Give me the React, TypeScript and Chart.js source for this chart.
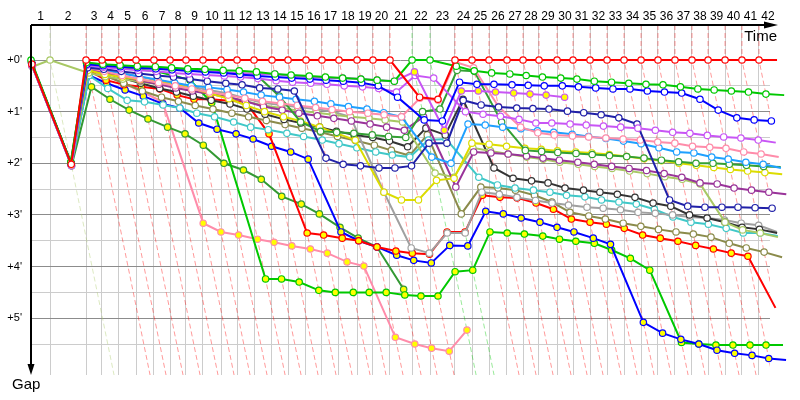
import { useEffect, useRef } from "react";
import { Chart, registerables } from "chart.js";
Chart.register(...registerables);

// Leader's race time (minutes) at the end of each lap, lap 0 = start
const lapTimes = [
  0, 1.81, 5.24, 6.76, 8.38, 10.0, 11.71, 13.24, 14.76, 16.38, 18.1, 19.62, 21.24, 22.95, 24.48,
  26.19, 27.71, 29.33, 31.05, 32.57, 34.19, 36.29, 38.0, 40.38, 42.0, 43.62, 45.33, 46.86, 48.38,
  50.1, 51.62, 53.24, 54.86, 56.48, 58.1, 59.71, 61.33, 62.95, 64.48, 66.1, 67.71, 69.33, 71.05,
];
const lapLabels = lapTimes.slice(1).map((_, i) => String(i + 1));

// Gap axis (minutes)
const gapTicks = [0, 0.5, 1, 1.5, 2, 2.5, 3, 3.5, 4, 4.5, 5, 5.5];
const gapLabels = ["+0'", "", "+1'", "", "+2'", "", "+3'", "", "+4'", "", "+5'", ""];

// Gaps (minutes) per lap, lap 0 .. last lap completed
const gapRed = [0.08, 2.02, 0, 0, 0, 0, 0, 0, 0, 0, 0, 0, 0, 0, 0, 0, 0, 0, 0, 0, 0, 0.72, 0.76, 0, 0, 0, 0, 0, 0, 0, 0, 0, 0, 0, 0, 0, 0, 0, 0, 0, 0, 0, 0];
const gapGreen = [0.0, 1.98, 0.05, 0.08, 0.1, 0.12, 0.13, 0.15, 0.17, 0.18, 0.2, 0.21, 0.23, 0.27, 0.29, 0.31, 0.33, 0.35, 0.37, 0.39, 0.41, 0, 0, 0.12, 0.21, 0.25, 0.27, 0.3, 0.33, 0.35, 0.37, 0.41, 0.43, 0.45, 0.47, 0.48, 0.52, 0.56, 0.58, 0.6, 0.62, 0.66, 0.68];
const gapBlue = [0.05, 2.0, 0.08, 0.11, 0.13, 0.15, 0.17, 0.19, 0.21, 0.23, 0.25, 0.28, 0.31, 0.33, 0.35, 0.37, 0.39, 0.41, 0.44, 0.5, 0.72, 1.16, 1.18, 0.43, 0.47, 0.47, 0.48, 0.49, 0.5, 0.5, 0.52, 0.54, 0.56, 0.56, 0.6, 0.62, 0.64, 0.76, 0.97, 1.12, 1.16, 1.18, 1.18];
const gapViolet = [0.1, 2.02, 0.1, 0.14, 0.17, 0.2, 0.22, 0.25, 0.27, 0.29, 0.31, 0.33, 0.36, 0.4, 0.43, 0.45, 0.47, 0.5, 0.52, 0.55, 0.62, 0.3, 0.35, 1.0, 1.05, 1.09, 1.15, 1.22, 1.22, 1.24, 1.26, 1.28, 1.3, 1.32, 1.36, 1.4, 1.42, 1.46, 1.49, 1.51, 1.55, 1.6];
const gapVioletY = [0.12, 2.05, 0.05, 0.09, 0.12, 0.15, 0.17, 0.19, 0.21, 0.22, 0.24, 0.25, 0.27, 0.27, 0.31, 0.33, 0.35, 0.35, 0.37, 0.39, 0.41, 0.23, 1.36, 0.6, 0.6, 0.62, 0.64, 0.66, 0.68, 0.72];
const gapPink = [0.1, 2.0, 0.15, 0.22, 0.3, 0.37, 0.44, 0.5, 0.56, 0.62, 0.68, 0.74, 0.8, 0.84, 0.88, 0.92, 0.96, 1.0, 1.03, 1.06, 1.1, 0.74, 0.78, 0.04, 0.15, 0.9, 1.3, 1.41, 1.45, 1.47, 1.49, 1.51, 1.53, 1.55, 1.59, 1.61, 1.67, 1.69, 1.71, 1.78, 1.82, 1.88];
const gapPinkY = [0.1, 2.0, 0.2, 0.3, 0.45, 0.62, 0.81, 3.16, 3.33, 3.39, 3.47, 3.53, 3.6, 3.66, 3.74, 3.91, 3.99, 5.37, 5.5, 5.58, 5.64, 5.23];
const gapLightBlue = [0.08, 2.0, 0.1, 0.2, 0.26, 0.32, 0.38, 0.44, 0.5, 0.53, 0.57, 0.62, 0.68, 0.72, 0.76, 0.8, 0.85, 0.9, 0.95, 1.02, 1.1, 1.88, 2.0, 1.24, 1.26, 1.3, 1.33, 1.37, 1.4, 1.44, 1.48, 1.52, 1.57, 1.62, 1.7, 1.78, 1.8, 1.88, 1.92, 1.98, 2.02, 2.09];
const gapDarkGreen = [0.08, 2.0, 0.07, 0.1, 0.12, 0.14, 0.16, 0.18, 0.2, 0.22, 0.24, 0.26, 0.3, 0.7, 1.2, 1.38, 1.4, 1.42, 1.45, 1.48, 1.5, 1.0, 0.95, 0.2, 0.22, 1.2, 1.75, 1.77, 1.79, 1.81, 1.83, 1.85, 1.87, 1.9, 1.94, 1.97, 2.0, 2.0, 2.02, 2.04, 2.06, 2.07];
const gapDarkGreenY = [0.1, 2.05, 0.52, 0.76, 0.97, 1.14, 1.3, 1.43, 1.65, 2.0, 2.13, 2.31, 2.64, 2.79, 2.98, 3.24, 3.45, 3.62, 4.44];
const gapYellow = [0.12, 2.02, 0.2, 0.28, 0.33, 0.38, 0.43, 0.48, 0.55, 0.65, 0.75, 0.88, 1.0, 1.1, 1.18, 1.3, 1.42, 1.55, 2.56, 2.71, 2.71, 2.33, 2.29, 1.61, 1.63, 1.67, 1.71, 1.73, 1.76, 1.78, 1.8, 1.83, 1.87, 1.91, 1.95, 2.0, 2.04, 2.08, 2.12, 2.15, 2.18, 2.21];
const gapPurple = [0.1, 2.03, 0.15, 0.25, 0.32, 0.4, 0.47, 0.54, 0.6, 0.66, 0.72, 0.8, 0.9, 0.97, 1.03, 1.08, 1.13, 1.18, 1.24, 1.3, 1.36, 1.1, 2.46, 1.78, 1.8, 1.82, 1.86, 1.9, 1.94, 1.98, 2.02, 2.06, 2.1, 2.14, 2.2, 2.27, 2.38, 2.4, 2.48, 2.52, 2.56, 2.6];
const gapLightOlive = [0.13, 0.0, 0.25, 0.32, 0.37, 0.42, 0.47, 0.52, 0.58, 0.65, 0.72, 0.8, 0.88, 0.93, 0.98, 1.02, 1.06, 1.1, 1.13, 1.16, 1.2, 2.19, 2.27, 1.7, 1.76, 1.82, 1.88, 1.92, 1.98, 2.02, 2.06, 2.1, 2.15, 2.2, 2.26, 2.31, 2.4, 3.14, 3.29, 3.35, 3.43];
const gapNavy = [0.08, 2.0, 0.15, 0.18, 0.22, 0.26, 0.3, 0.33, 0.37, 0.41, 0.45, 0.48, 0.54, 0.56, 0.6, 1.9, 2.02, 2.05, 2.09, 2.09, 2.05, 1.61, 1.61, 0.78, 0.87, 0.91, 0.93, 0.94, 0.95, 0.99, 1.02, 1.06, 1.12, 1.24, 2.71, 2.83, 2.85, 2.85, 2.85, 2.86, 2.87, 2.89];
const gapBlack = [0.1, 2.02, 0.12, 0.25, 0.35, 0.45, 0.55, 0.62, 0.7, 0.78, 0.85, 0.95, 1.05, 1.15, 1.22, 1.3, 1.38, 1.45, 1.5, 1.57, 1.68, 1.32, 1.45, 0.76, 2.09, 2.29, 2.34, 2.38, 2.48, 2.52, 2.56, 2.6, 2.66, 2.77, 2.83, 3.0, 3.06, 3.14, 3.24, 3.28, 3.35];
const gapGray = [0.1, 2.0, 0.12, 0.18, 0.25, 0.32, 0.4, 0.46, 0.52, 0.58, 0.65, 0.74, 0.83, 0.87, 0.91, 0.95, 1.0, 1.1, 2.56, 3.64, 3.74, 3.35, 3.35, 2.56, 2.6, 2.66, 2.72, 2.77, 2.81, 2.85, 2.87, 2.9, 2.95, 2.97, 3.0, 3.04, 3.06, 3.1, 3.16, 3.2, 3.33];
const gapCyan = [0.12, 2.04, 0.3, 0.55, 0.78, 0.81, 0.87, 0.93, 1.03, 1.1, 1.2, 1.3, 1.35, 1.42, 1.48, 1.55, 1.62, 1.7, 1.78, 1.84, 1.88, 1.55, 1.53, 2.27, 2.42, 2.48, 2.52, 2.56, 2.62, 2.65, 2.71, 2.75, 2.79, 2.89, 3.04, 3.14, 3.18, 3.26, 3.35, 3.35, 3.41];
const gapOlive = [0.1, 2.02, 0.15, 0.3, 0.45, 0.6, 0.72, 0.8, 0.88, 0.95, 1.03, 1.1, 1.17, 1.25, 1.32, 1.4, 1.48, 1.56, 1.65, 1.75, 1.85, 1.45, 2.98, 2.46, 2.48, 2.52, 2.62, 2.75, 2.95, 3.02, 3.08, 3.16, 3.22, 3.28, 3.33, 3.37, 3.43, 3.55, 3.64, 3.72, 3.82];
const gapRedY = [0.1, 2.0, 0.2, 0.39, 0.48, 0.52, 0.56, 0.68, 0.76, 0.76, 0.79, 0.81, 1.43, 3.35, 3.39, 3.45, 3.5, 3.62, 3.7, 3.74, 3.76, 3.33, 3.33, 2.62, 2.66, 2.67, 2.77, 2.89, 3.08, 3.14, 3.18, 3.26, 3.39, 3.45, 3.51, 3.59, 3.66, 3.74, 3.8, 4.8];
const gapBlueY = [0.08, 2.02, 0.3, 0.45, 0.58, 0.7, 0.85, 0.93, 1.22, 1.34, 1.43, 1.53, 1.67, 1.78, 1.92, 3.33, 3.5, 3.62, 3.78, 3.88, 3.93, 3.59, 3.6, 2.93, 2.98, 3.06, 3.14, 3.24, 3.33, 3.45, 3.57, 5.08, 5.29, 5.41, 5.5, 5.62, 5.68, 5.72, 5.78, 5.81];
const gapGreenY = [0.05, 1.98, 0.06, 0.1, 0.14, 0.18, 0.22, 0.3, 0.39, 0.83, 4.24, 4.24, 4.3, 4.46, 4.5, 4.5, 4.5, 4.5, 4.55, 4.57, 4.57, 4.1, 4.07, 3.33, 3.35, 3.37, 3.41, 3.47, 3.51, 3.55, 3.68, 3.84, 4.07, 5.47, 5.5, 5.52, 5.52, 5.52, 5.52, 5.52];

const WHITE = "#ffffff";
const YELLOW = "#ffff00";
const cars = [
  { color: "#ff0000", marker: WHITE, gaps: gapRed },
  { color: "#00c800", marker: WHITE, gaps: gapGreen },
  { color: "#0000ff", marker: WHITE, gaps: gapBlue },
  { color: "#c855f5", marker: YELLOW, gaps: gapVioletY },
  { color: "#c855f5", marker: WHITE, gaps: gapViolet },
  { color: "#2020a8", marker: WHITE, gaps: gapNavy },
  { color: "#ff8caa", marker: WHITE, gaps: gapPink },
  { color: "#1ea0ff", marker: WHITE, gaps: gapLightBlue },
  { color: "#33a033", marker: WHITE, gaps: gapDarkGreen },
  { color: "#dcdc00", marker: WHITE, gaps: gapYellow },
  { color: "#993399", marker: WHITE, gaps: gapPurple },
  { color: "#a8c864", marker: WHITE, gaps: gapLightOlive },
  { color: "#333333", marker: WHITE, gaps: gapBlack },
  { color: "#a0a0a0", marker: WHITE, gaps: gapGray },
  { color: "#40c8c8", marker: WHITE, gaps: gapCyan },
  { color: "#8b8b4b", marker: WHITE, gaps: gapOlive },
  { color: "#ff0000", marker: YELLOW, gaps: gapRedY },
  { color: "#0000ff", marker: YELLOW, gaps: gapBlueY },
  { color: "#00c800", marker: YELLOW, gaps: gapGreenY },
  { color: "#339933", marker: YELLOW, gaps: gapDarkGreenY },
  { color: "#ff8caa", marker: YELLOW, gaps: gapPinkY },
];

const X_MAX = 70.38;
const Y_MIN = -0.678;
const Y_MAX = 6.1;

function hexToRgba(hex: string, a: number) {
  const n = parseInt(hex.slice(1), 16);
  return `rgba(${(n >> 16) & 255},${(n >> 8) & 255},${n & 255},${a})`;
}

const xTicks: { value: number; label: string; grid: boolean }[] = [];
for (let i = 1; i < lapTimes.length; i++) {
  if (lapTimes[i] < X_MAX) xTicks.push({ value: lapTimes[i], label: "", grid: true });
  const mid = (lapTimes[i - 1] + lapTimes[i]) / 2;
  if (mid < X_MAX) xTicks.push({ value: mid, label: lapLabels[i - 1], grid: false });
}
xTicks.sort((a, b) => a.value - b.value);

const decor = {
  id: "decor",
  afterDraw(chart: any) {
    const { ctx, chartArea: a } = chart;
    ctx.save();
    ctx.strokeStyle = "#000";
    ctx.fillStyle = "#000";
    ctx.lineWidth = 2;
    ctx.beginPath();
    ctx.moveTo(a.left, a.top);
    ctx.lineTo(a.right - 2, a.top);
    ctx.stroke();
    ctx.beginPath();
    ctx.moveTo(a.right + 8, a.top);
    ctx.lineTo(a.right - 6, a.top - 3.5);
    ctx.lineTo(a.right - 6, a.top + 3.5);
    ctx.closePath();
    ctx.fill();
    ctx.beginPath();
    ctx.moveTo(a.left, a.top);
    ctx.lineTo(a.left, a.bottom - 8);
    ctx.stroke();
    ctx.beginPath();
    ctx.moveTo(a.left, a.bottom);
    ctx.lineTo(a.left - 3.5, a.bottom - 11);
    ctx.lineTo(a.left + 3.5, a.bottom - 11);
    ctx.closePath();
    ctx.fill();
    ctx.font = '15px "Liberation Sans", Arial, sans-serif';
    ctx.textBaseline = "alphabetic";
    ctx.textAlign = "right";
    ctx.fillText("Time", a.right + 7, a.top + 16);
    ctx.textAlign = "left";
    ctx.fillText("Gap", 12, a.bottom + 14);
    ctx.restore();
  },
};

export default function App() {
  const ref = useRef<HTMLCanvasElement | null>(null);
  useEffect(() => {
    if (!ref.current) return;
    const carSets = cars.map((c) => ({
      data: c.gaps.map((g, i) => ({ x: lapTimes[i] + g, y: g })),
      borderColor: c.color,
      backgroundColor: c.marker,
      pointBackgroundColor: c.marker,
      pointBorderColor: c.color,
      pointBorderWidth: 1.2,
      pointRadius: 3.2,
      borderWidth: 2,
      tension: 0,
      fill: false,
      clip: false as any,
    }));
    const lapSets: any[] = [];
    for (let lap = 1; lap < lapTimes.length; lap++) {
      const pts = cars
        .filter((c) => c.gaps.length > lap)
        .map((c) => ({ x: lapTimes[lap] + c.gaps[lap], y: c.gaps[lap], color: c.color }))
        .sort((p, q) => p.y - q.y);
      if (!pts.length) continue;
      const lead = pts[0];
      const data = [
        { x: lapTimes[lap], y: Y_MIN },
        ...pts.map((p) => ({ x: p.x, y: p.y })),
        { x: lapTimes[lap] + Y_MAX, y: Y_MAX },
      ];
      lapSets.push({
        data,
        borderColor: hexToRgba(lead.color, 0.4),
        borderWidth: 1,
        borderDash: [5, 3],
        pointRadius: 0,
        tension: 0,
        fill: false,
      });
    }
    const chart = new Chart(ref.current, {
      type: "line",
      data: { datasets: [...carSets, ...lapSets] as any },
      options: {
        responsive: false,
        animation: false,
        events: [],
        layout: { padding: { left: 0, top: 0, right: 30, bottom: 25 } },
        plugins: { legend: { display: false }, tooltip: { enabled: false } },
        scales: {
          x: {
            type: "linear",
            position: "top",
            min: 0,
            max: X_MAX,
            afterBuildTicks: (s: any) => {
              s.ticks = xTicks.map((t) => ({ value: t.value }));
            },
            afterFit: (s: any) => {
              s.height = 25;
            },
            border: { display: false },
            grid: {
              drawTicks: false,
              lineWidth: 1,
              color: (c: any) => (xTicks[c.index] && xTicks[c.index].grid ? "#cccccc" : "rgba(0,0,0,0)"),
            },
            ticks: {
              autoSkip: false,
              maxRotation: 0,
              minRotation: 0,
              padding: 1,
              color: "#000",
              font: { family: '"Liberation Sans", Arial, sans-serif', size: 12 },
              callback: (_v: any, i: number) => (xTicks[i] ? xTicks[i].label : ""),
            },
          },
          y: {
            type: "linear",
            reverse: true,
            min: Y_MIN,
            max: Y_MAX,
            afterBuildTicks: (s: any) => {
              s.ticks = gapTicks.map((v) => ({ value: v }));
            },
            afterFit: (s: any) => {
              s.width = 31;
            },
            border: { display: false },
            grid: {
              drawTicks: false,
              lineWidth: 1,
              color: (c: any) => (Number.isInteger(gapTicks[c.index]) ? "#8c8c8c" : "#cccccc"),
            },
            ticks: {
              padding: 9,
              color: "#000",
              font: { family: '"Liberation Sans", Arial, sans-serif', size: 11 },
              callback: (_v: any, i: number) => gapLabels[i] || "",
            },
          },
        },
      },
      plugins: [decor],
    });
    return () => chart.destroy();
  }, []);
  return (
    <canvas
      ref={ref}
      width={800}
      height={400}
      style={{ position: "absolute", left: 0, top: 0, width: 800, height: 400 }}
    />
  );
}
